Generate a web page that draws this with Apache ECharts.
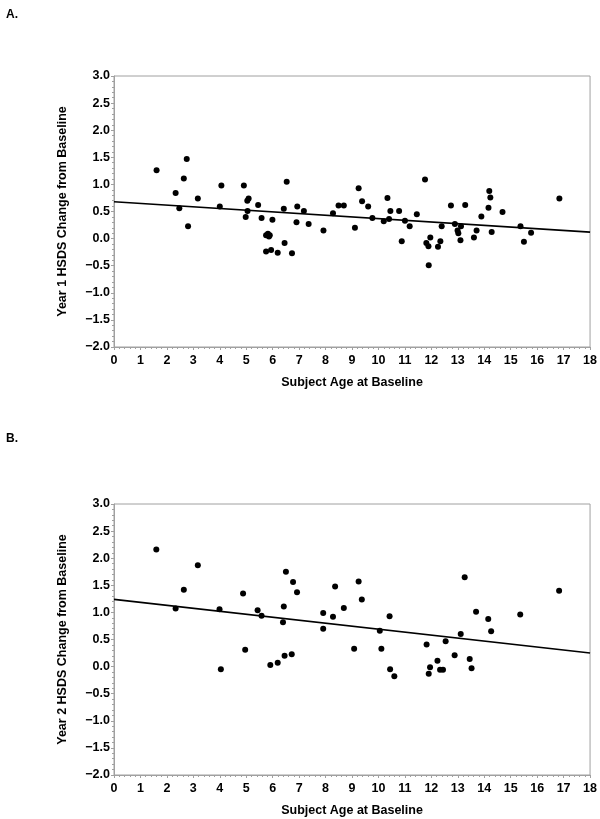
<!DOCTYPE html>
<html>
<head>
<meta charset="utf-8">
<script src="https://cdn.jsdelivr.net/npm/echarts@6/dist/echarts.min.js"></script>
<style>
html,body{margin:0;padding:0;background:#fff;}
#c{width:600px;height:819px;}
</style>
</head>
<body>
<div id="c"></div>
<script>
// Panel A: Year 1
const ageA = [1.61,2.33,2.47,2.64,2.75,2.80,3.17,4.00,4.06,4.91,4.98,5.04,5.09,5.05,5.45,5.58,5.75,5.82,5.86,5.89,5.75,5.94,5.99,6.19,6.42,6.45,6.53,6.73,6.93,6.90,7.18,7.36,7.92,8.28,8.49,8.69,
  9.11,9.25,9.38,9.61,9.77,10.20,10.34,10.40,10.45,10.78,10.88,11.00,11.18,11.45,11.76,11.81,11.89,11.96,11.90,12.25,12.34,12.39,12.74,12.89,12.99,13.02,13.12,13.10,13.28,13.61,13.71,13.89,14.16,14.19,14.23,14.28,14.69,15.37,15.50,15.77,16.84];
const changeA = [1.26,0.84,0.56,1.11,1.47,0.23,0.74,0.59,0.98,0.98,0.40,0.70,0.74,0.51,0.62,0.38,0.06,0.09,0.04,0.06,-0.24,-0.21,0.35,-0.26,0.55,-0.08,1.05,-0.27,0.59,0.30,0.51,0.27,0.15,0.47,0.61,0.61,
  0.20,0.93,0.69,0.59,0.38,0.32,0.75,0.36,0.51,0.51,-0.05,0.33,0.23,0.45,1.09,-0.08,-0.14,0.02,-0.49,-0.15,-0.05,0.23,0.61,0.27,0.15,0.10,0.23,-0.03,0.62,0.02,0.15,0.41,0.57,0.88,0.76,0.12,0.49,0.23,-0.06,0.11,0.74];
const fitA = [[0, 0.68], [18, 0.12]];

// Panel B: Year 2
const ageB = [1.60,2.33,2.64,3.17,3.99,4.04,4.88,4.96,5.43,5.58,5.91,6.19,6.39,6.42,6.45,6.50,6.72,6.77,6.92,7.91,7.91,8.28,8.36,8.69,
  9.08,9.25,9.37,10.05,10.11,10.42,10.44,10.60,11.82,11.95,11.90,12.23,12.33,12.44,12.54,12.88,13.11,13.26,13.45,13.52,13.69,14.15,14.26,15.36,16.83];
const changeB = [2.16,1.07,1.42,1.87,1.06,-0.05,1.35,0.31,1.04,0.94,0.03,0.07,0.82,1.11,0.20,1.75,0.23,1.56,1.37,0.99,0.70,0.92,1.48,1.08,
  0.33,1.57,1.24,0.66,0.33,0.93,-0.05,-0.18,0.41,-0.01,-0.13,0.11,-0.06,-0.06,0.47,0.21,0.60,1.65,0.14,-0.03,1.01,0.88,0.65,0.96,1.40];
const fitB = [[0, 1.24], [18, 0.25]];

const xTicks = {min: 0, max: 18, interval: 1};
const yTicks = {min: -2, max: 3, interval: 0.5};
const xTitle = 'Subject Age at Baseline';
const yTitles = ['Year 1 HSDS Change from Baseline', 'Year 2 HSDS Change from Baseline'];
const panelLabels = ['A.', 'B.'];

const FONT = '"Liberation Sans", Arial, sans-serif';
const grey = '#a0a0a0';

function xAxis(idx) {
  return {
    type: 'value', gridIndex: idx, min: xTicks.min, max: xTicks.max, interval: xTicks.interval,
    name: xTitle, nameLocation: 'middle', nameGap: 29,
    nameTextStyle: {fontFamily: FONT, fontWeight: 'bold', fontSize: 12.5, color: '#000'},
    axisLine: {show: true, onZero: false, lineStyle: {color: grey, width: 1}},
    axisTick: {show: true, length: 3, lineStyle: {color: grey}},
    minorTick: {show: true, splitNumber: 5, length: 2, lineStyle: {color: grey}},
    splitLine: {show: false},
    axisLabel: {fontFamily: FONT, fontWeight: 'bold', fontSize: 12.5, color: '#000', margin: 7}
  };
}
function yAxis(idx) {
  return {
    type: 'value', gridIndex: idx, min: yTicks.min, max: yTicks.max, interval: yTicks.interval,
    name: yTitles[idx], nameLocation: 'middle', nameGap: 45, nameRotate: 90,
    nameTextStyle: {fontFamily: FONT, fontWeight: 'bold', fontSize: 12.5, color: '#000'},
    axisLine: {show: true, onZero: false, lineStyle: {color: grey, width: 1}},
    axisTick: {show: true, length: 3, lineStyle: {color: grey}},
    minorTick: {show: true, splitNumber: 5, length: 2, lineStyle: {color: grey}},
    splitLine: {show: false},
    axisLabel: {fontFamily: FONT, fontWeight: 'bold', fontSize: 12.5, color: '#000', margin: 4,
      formatter: v => v.toFixed(1).replace('-', '\u2212')}
  };
}

const chart = echarts.init(document.getElementById('c'), null, {renderer: 'canvas'});
chart.setOption({
  animation: false,
  backgroundColor: '#fff',
  title: [
    {text: panelLabels[0], left: 1, top: 4, textStyle: {fontFamily: FONT, fontWeight: 'bold', fontSize: 12, color: '#000'}},
    {text: panelLabels[1], left: 1, top: 428, textStyle: {fontFamily: FONT, fontWeight: 'bold', fontSize: 12, color: '#000'}}
  ],
  grid: [
    {left: 114, top: 76, width: 479, height: 271, show: true, borderColor: grey, borderWidth: 1, backgroundColor: '#fff'},
    {left: 114, top: 504, width: 479, height: 271, show: true, borderColor: grey, borderWidth: 1, backgroundColor: '#fff'}
  ],
  xAxis: [xAxis(0), xAxis(1)],
  yAxis: [yAxis(0), yAxis(1)],
  series: [
    {type: 'scatter', xAxisIndex: 0, yAxisIndex: 0, symbol: 'circle', symbolSize: 6,
      itemStyle: {color: '#000', opacity: 1}, data: ageA.map((a, i) => [a, changeA[i]])},
    {type: 'line', xAxisIndex: 0, yAxisIndex: 0, data: fitA, showSymbol: false,
      lineStyle: {color: '#000', width: 1.6}},
    {type: 'scatter', xAxisIndex: 1, yAxisIndex: 1, symbol: 'circle', symbolSize: 6,
      itemStyle: {color: '#000', opacity: 1}, data: ageB.map((a, i) => [a, changeB[i]])},
    {type: 'line', xAxisIndex: 1, yAxisIndex: 1, data: fitB, showSymbol: false,
      lineStyle: {color: '#000', width: 1.6}}
  ]
});
</script>
</body>
</html>
